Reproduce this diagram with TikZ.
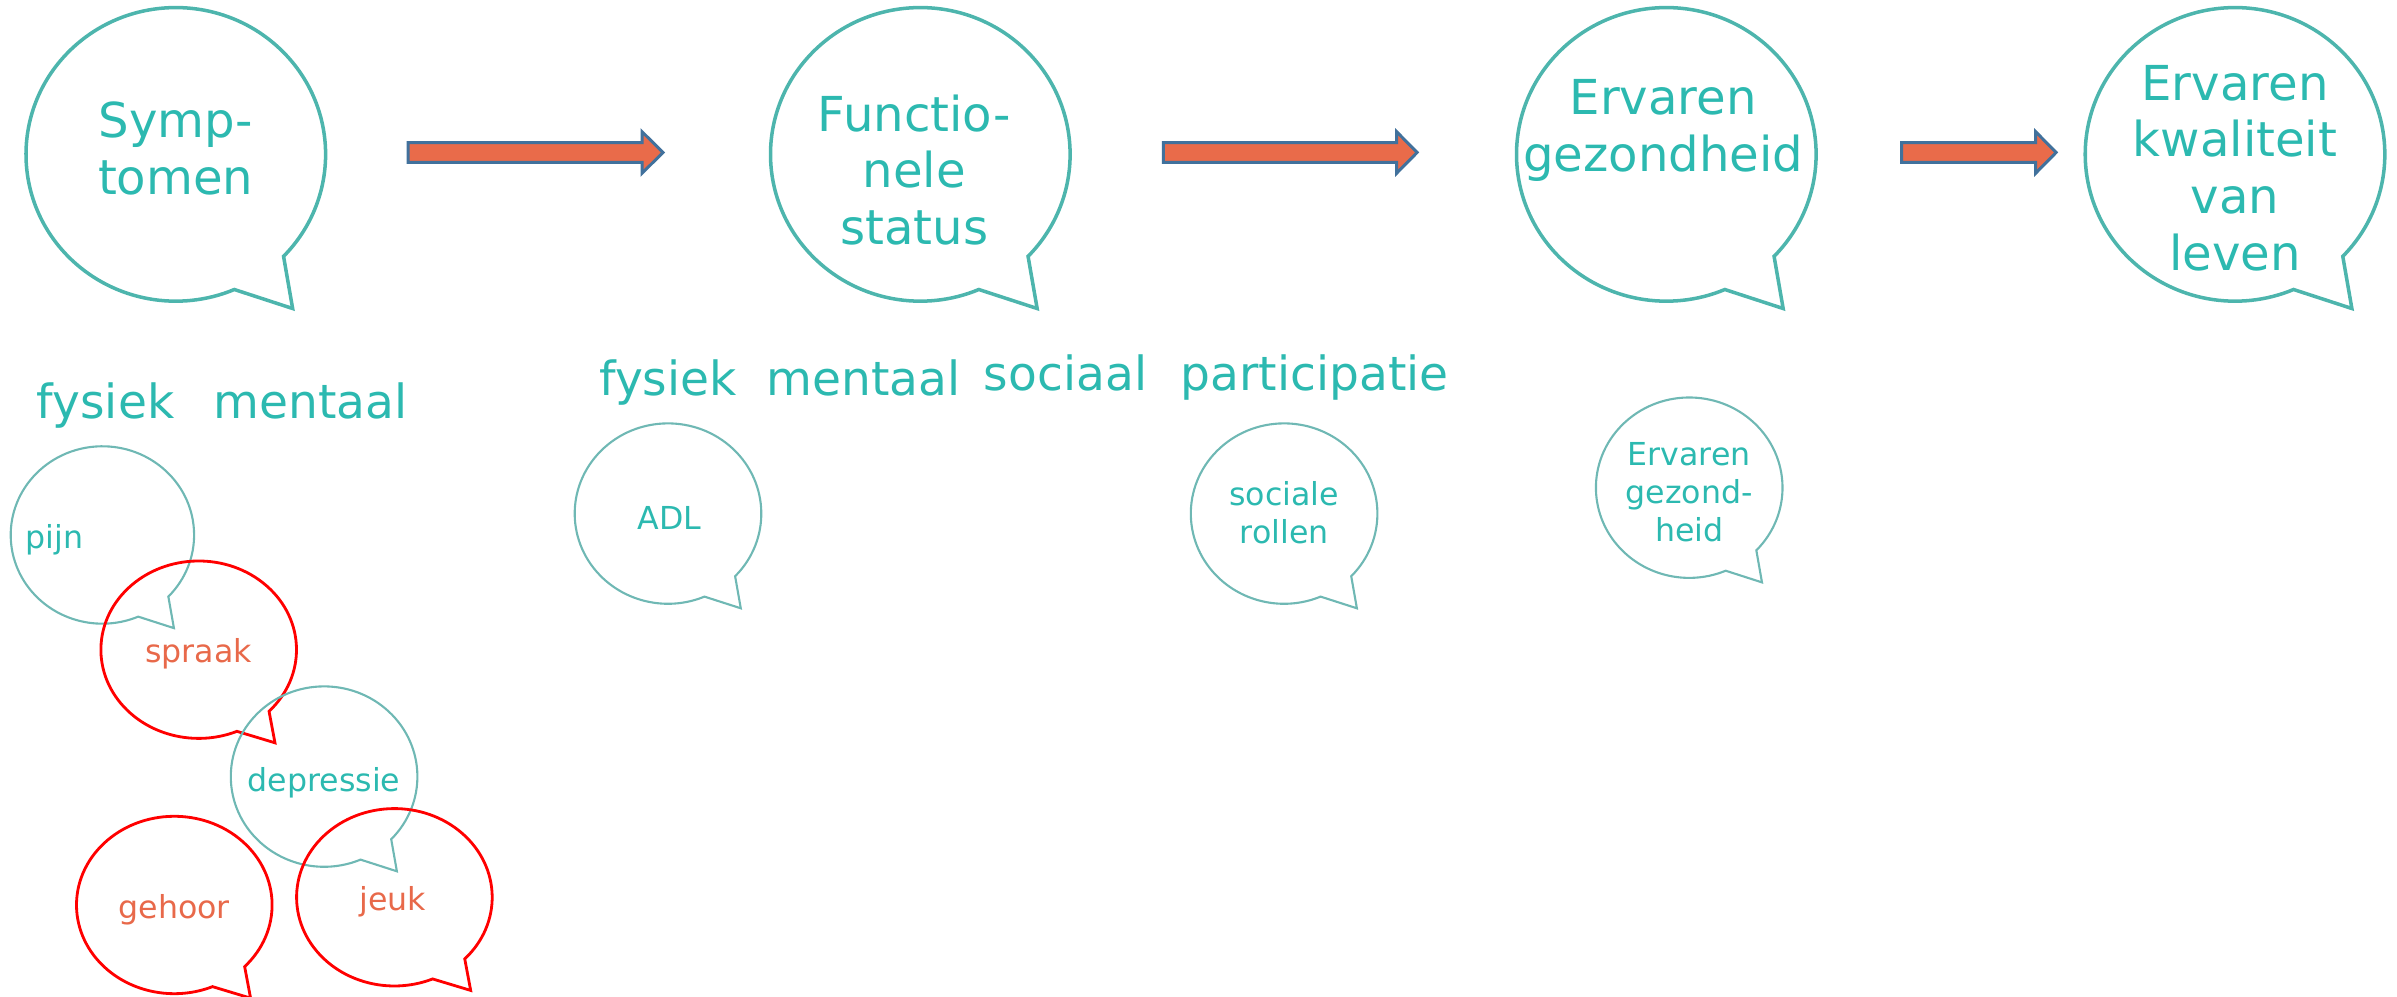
\documentclass[tikz,border=0pt]{standalone}
\usepackage{fontspec}
\setmainfont{DejaVu Sans}
\definecolor{tealtxt}{HTML}{2CB9B0}
\definecolor{tealline}{HTML}{4DB5AD}
\definecolor{tealthin}{HTML}{6FB8B4}
\definecolor{orangetxt}{HTML}{E8694A}
\definecolor{arrowfill}{HTML}{E96B4A}
\definecolor{arrowline}{HTML}{41719C}
\newcommand\speechbubble[5]{%
  \draw[#1,shift={(#2,#3)}] (-44:#4 and #5)
    arc[start angle=-44,end angle=293,x radius=#4,y radius=#5]
    -- ({0.78*#4},{-1.05*#5}) -- cycle;}
\newcommand\blockarrow[4]{% x0, x1, headstart, y
  \draw[fatarrow] (#1,#4-0.098) -- (#3,#4-0.098) -- (#3,#4-0.208) -- (#2,#4)
    -- (#3,#4+0.208) -- (#3,#4+0.098) -- (#1,#4+0.098) -- cycle;}
\tikzset{
  bigbubble/.style={draw=tealline,line width=1.0pt,line join=miter},
  smallbubble/.style={draw=tealthin,line width=0.6pt},
  redbubble/.style={draw=red,line width=0.8pt},
  bigtext/.style={text=tealtxt,font=\fontsize{13.7pt}{16.1pt}\selectfont,align=center,inner sep=0pt},
  labeltext/.style={text=tealtxt,font=\fontsize{13.4pt}{16pt}\selectfont,inner sep=0pt,anchor=base},
  smalltext/.style={text=tealtxt,font=\fontsize{9pt}{10.9pt}\selectfont,align=center,inner sep=0pt},
  redtext/.style={text=orangetxt,font=\fontsize{9pt}{10.9pt}\selectfont,inner sep=0pt},
  fatarrow/.style={fill=arrowfill,draw=arrowline,line width=0.85pt,line join=miter}
}
\begin{document}
\begin{tikzpicture}
\useasboundingbox (0,0) rectangle (23.97,9.97);
% big bubbles
\speechbubble{bigbubble}{1.758}{8.426}{1.498}{1.468}
\speechbubble{bigbubble}{9.203}{8.426}{1.498}{1.468}
\speechbubble{bigbubble}{16.663}{8.426}{1.498}{1.468}
\speechbubble{bigbubble}{22.350}{8.426}{1.498}{1.468}
\node[bigtext] (symp) at (1.758,8.487) {Symp-\\tomen};
\node[bigtext] (func) at (9.142,8.270) {Functio-\\nele\\status};
\node[bigtext] (erv) at (16.632,8.663) {Ervaren\\gezondheid};
\node[bigtext] (kwal) at (22.350,8.290) {Ervaren\\kwaliteit\\van\\leven};
% arrows
\blockarrow{4.08}{6.63}{6.42}{8.445}
\blockarrow{11.633}{14.171}{13.966}{8.445}
\blockarrow{19.017}{20.561}{20.356}{8.445}
% labels
\node[labeltext] (l1) at (1.055,5.785) {fysiek};
\node[labeltext] (l2) at (3.103,5.785) {mentaal};
\node[labeltext] (l3) at (6.680,6.014) {fysiek};
\node[labeltext] (l4) at (8.637,6.014) {mentaal};
\node[labeltext] (l5) at (10.655,6.060) {sociaal};
\node[labeltext] (l6) at (13.147,6.060) {participatie};
% small bubbles
\speechbubble{smallbubble}{1.024}{4.620}{0.917}{0.887}
\speechbubble{redbubble}{1.987}{3.473}{0.978}{0.887}
\speechbubble{smallbubble}{3.241}{2.204}{0.933}{0.902}
\speechbubble{redbubble}{1.743}{0.920}{0.978}{0.887}
\speechbubble{redbubble}{3.944}{0.997}{0.978}{0.887}
\speechbubble{smallbubble}{6.680}{4.834}{0.933}{0.902}
\speechbubble{smallbubble}{12.841}{4.834}{0.933}{0.902}
\speechbubble{smallbubble}{16.892}{5.093}{0.933}{0.902}
\node[smalltext] (pijn) at (0.545,4.575) {pijn};
\node[redtext] (spraak) at (1.987,3.428) {spraak};
\node[smalltext] (depr) at (3.241,2.144) {depressie};
\node[redtext] (gehoor) at (1.743,0.875) {gehoor};
\node[redtext] (jeuk) at (3.929,0.951) {jeuk};
\node[smalltext] (adl) at (6.696,4.788) {ADL};
\node[smalltext] (soc) at (12.841,4.841) {sociale\\rollen};
\node[smalltext] (egez) at (16.892,5.048) {Ervaren\\gezond-\\heid};
\end{tikzpicture}
\end{document}
